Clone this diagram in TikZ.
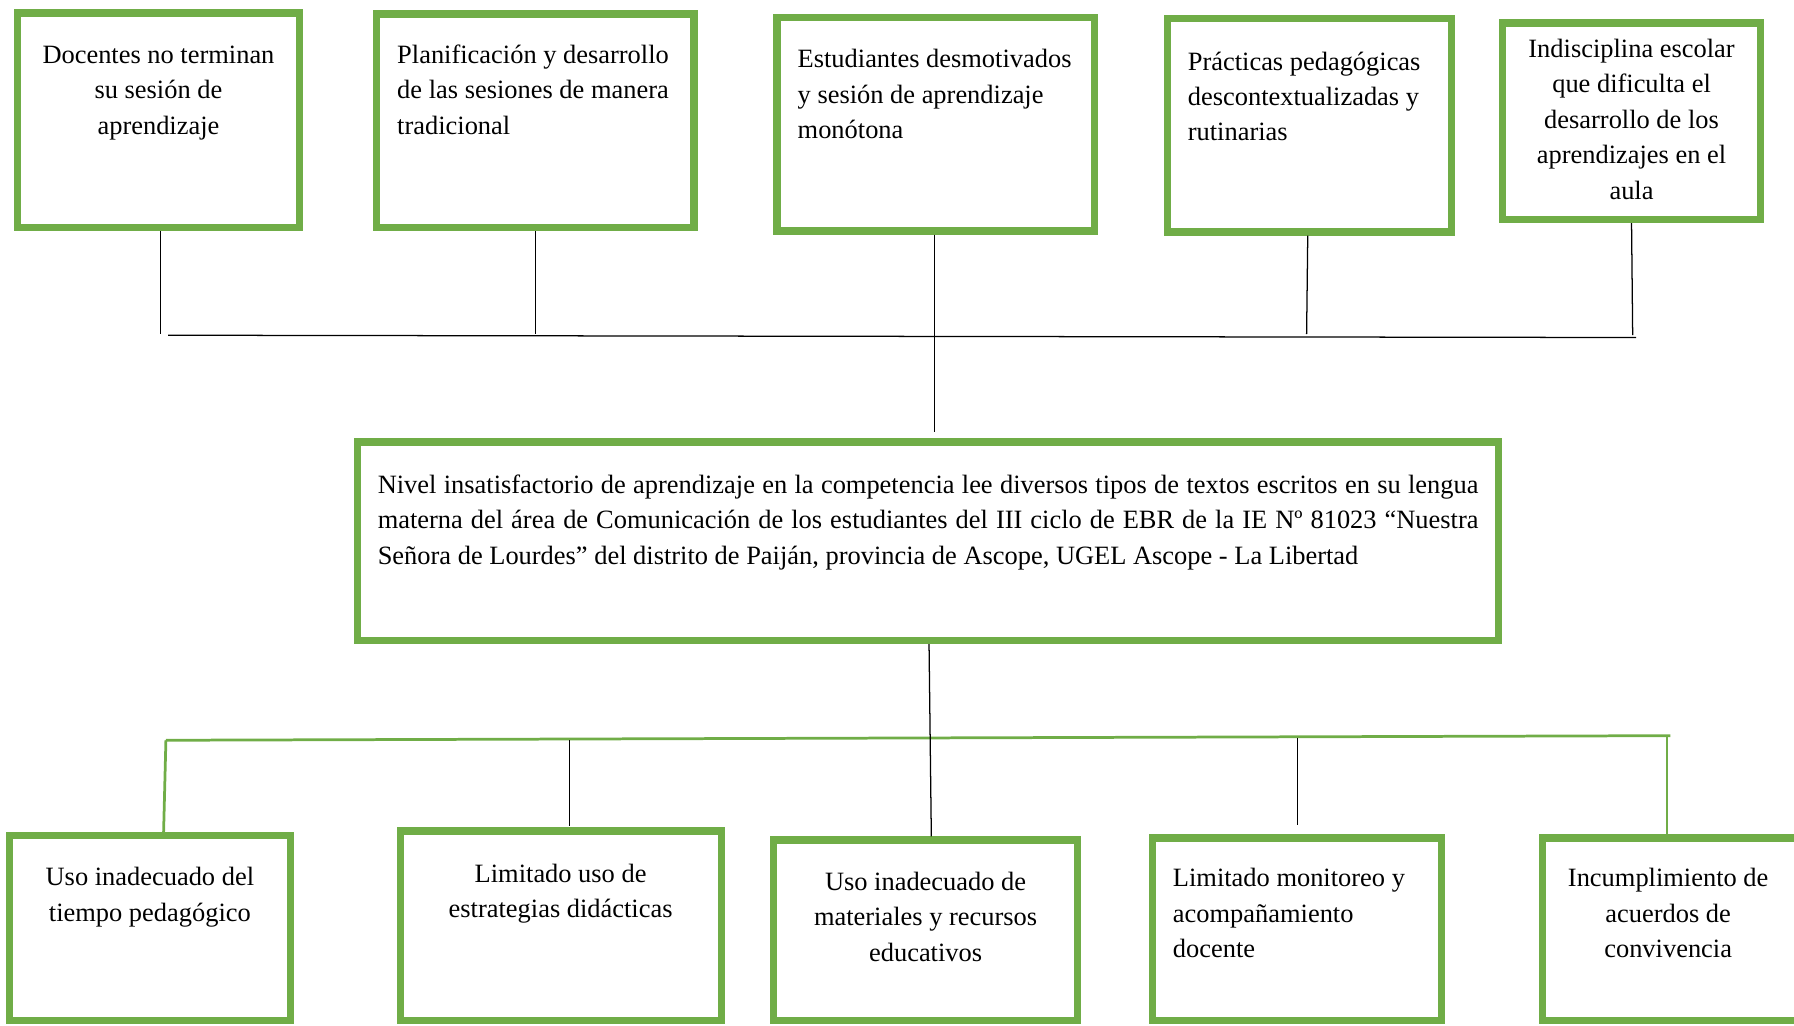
\documentclass[tikz,border=0pt]{standalone}
\usepackage{fontspec}
\setmainfont{Liberation Serif}
\definecolor{boxgreen}{RGB}{112,173,71}
\newcommand\fs{\fontsize{23.1}{31}\selectfont}
\newcommand\gbox[5]{\node[gbox, minimum width={(#4-#2-6.5)*1pt}, minimum height={(#5-#3-6.5)*1pt}] (#1) at ({(#2+#4)/2},{(#3+#5)/2}) {};}
\tikzset{
  gbox/.style={draw=boxgreen, line width=6.5pt, rectangle, inner sep=0pt, fill=white},
  txtc/.style={font=\fs, align=center, anchor=north, inner sep=0pt},
  txtl/.style={font=\fs, align=left, anchor=north west, inner sep=0pt},
  conn/.style={draw=black, line width=1.1pt},
  gconn/.style={draw=boxgreen, line width=2.4pt},
}
\begin{document}
\begin{tikzpicture}[x=1pt,y=-1pt]
\useasboundingbox (0,0) rectangle (1568,896);
% top boxes
\gbox{b1}{12}{8}{265}{202}
\gbox{b2}{326}{9}{610}{202}
\gbox{b3}{676}{12}{960}{205}
\gbox{b4}{1017}{13}{1272}{206}
\gbox{b5}{1310}{17}{1542}{195}
% central box
\gbox{c}{309}{383}{1313}{563}
% bottom boxes
\gbox{d1}{5}{727}{257}{895}
\gbox{d2}{347}{723}{634}{895}
\gbox{d3}{673}{731}{945}{895}
\gbox{d4}{1004}{729}{1263}{895}
\gbox{d5}{1345}{729}{1582}{895}
% texts
\node[txtc] (tb1) at (138.5,33.3) {\strut Docentes no terminan\\su sesión de\\aprendizaje};
\node[txtl] (tb2) at (347,33.3) {\strut Planificación y desarrollo\\de las sesiones de manera\\tradicional};
\node[txtl] (tb3) at (697,37.3) {\strut Estudiantes desmotivados\\y sesión de aprendizaje\\monótona};
\node[txtl] (tb4) at (1038,39.3) {\strut Prácticas pedagógicas\\descontextualizadas y\\rutinarias};
\node[txtc] (tb5) at (1426,28.3) {\strut Indisciplina escolar\\que dificulta el\\desarrollo de los\\aprendizajes en el\\aula};
\node[txtl] (tc) at (330,409.3) {\strut\makebox[962pt][s]{Nivel insatisfactorio de aprendizaje en la competencia lee diversos tipos de textos escritos en su lengua}\\\makebox[962pt][s]{materna del área de Comunicación de los estudiantes del III ciclo de EBR de la IE Nº 81023 “Nuestra}\\Señora de Lourdes” del distrito de Paiján, provincia de Ascope, UGEL Ascope - La Libertad};
\node[txtc] (td1) at (131,752.3) {\strut Uso inadecuado del\\tiempo pedagógico};
\node[txtc] (td2) at (490,749.3) {\strut Limitado uso de\\estrategias didácticas};
\node[txtc] (td3) at (809,756.3) {\strut Uso inadecuado de\\materiales y recursos\\educativos};
\node[txtl] (td4) at (1025,753.3) {\strut Limitado monitoreo y\\acompañamiento\\docente};
\node[txtc] (td5) at (1458,753.3) {\strut Incumplimiento de\\acuerdos de\\convivencia};
% top connectors
\coordinate (hl) at (147,293);
\coordinate (hr) at (1430,295);
\coordinate (e1) at (140,292);
\coordinate (e2) at (468,292);
\coordinate (e3) at (817,378);
\coordinate (e4) at (1142,292);
\coordinate (e5) at (1427,293);
\draw[conn] (hl) -- (hr);
\draw[conn] (b1.south -| e1) -- (e1);
\draw[conn] (b2.south -| e2) -- (e2);
\draw[conn] (b3.south -| e3) -- (e3);
\draw[conn] (b4.south -| 1143,0) -- (e4);
\draw[conn] (b5.south -| 1426,0) -- (e5);
% bottom connectors
\coordinate (gl) at (145,647);
\coordinate (gr) at (1460,643);
\coordinate (f2) at (498,647);
\coordinate (f3) at (812,563);
\coordinate (f4) at (1134,645);
\coordinate (g1) at (143,727);
\coordinate (g5) at (1457,643);
\draw[gconn] (gl) -- (gr);
\draw[gconn] (gl) -- (g1);
\draw[gconn] (g5) -- (d5.north -| g5);
\draw[conn] (c.south -| f3) -- (d3.north -| 814,0);
\draw[conn] (f2) -- (498,722);
\draw[conn] (f4) -- (1134,721);
\end{tikzpicture}
\end{document}
